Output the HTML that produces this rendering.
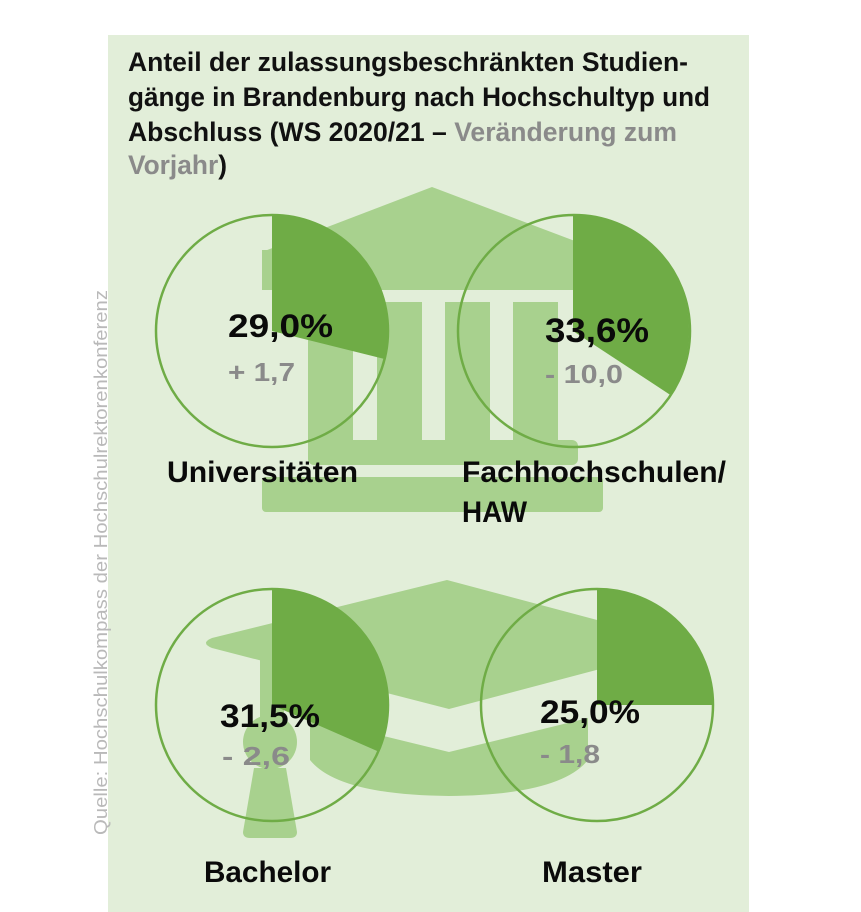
<!DOCTYPE html>
<html><head><meta charset="utf-8"><style>
html,body{margin:0;padding:0;background:#fff;}
svg{display:block;}
</style></head><body>
<svg width="861" height="912" viewBox="0 0 861 912" xmlns="http://www.w3.org/2000/svg">
<rect x="0" y="0" width="861" height="912" fill="#ffffff"/>
<rect x="108" y="35" width="641" height="877" fill="#e2eed9"/>
<text transform="translate(107,835) rotate(-90)" font-family="Liberation Sans, sans-serif" font-size="18" fill="#b9b9b9" textLength="545" lengthAdjust="spacingAndGlyphs">Quelle: Hochschulkompass der Hochschulrektorenkonferenz</text>
<g font-family="Liberation Sans, sans-serif" font-weight="bold" font-size="27" fill="#111">
<text x="128" y="71" textLength="560" lengthAdjust="spacingAndGlyphs">Anteil der zulassungsbeschränkten Studien-</text>
<text x="128" y="106" textLength="582" lengthAdjust="spacingAndGlyphs">gänge in Brandenburg nach Hochschultyp und</text>
<text x="128" y="141" textLength="549" lengthAdjust="spacingAndGlyphs">Abschluss (WS 2020/21 – <tspan fill="#8a8a8a">Veränderung zum</tspan></text>
<text x="128" y="174" textLength="99" lengthAdjust="spacingAndGlyphs"><tspan fill="#8a8a8a">Vorjahr</tspan>)</text>
</g>
<g fill="#a8d18e">
<polygon points="432,187 262,252 604,252"/>
<rect x="262" y="250" width="342" height="40"/>
<rect x="308" y="302" width="45" height="145"/>
<rect x="377" y="302" width="45" height="145"/>
<rect x="445" y="302" width="45" height="145"/>
<rect x="513" y="302" width="45" height="145"/>
<rect x="308" y="440" width="270" height="25" rx="6"/>
<rect x="262" y="477" width="341" height="35" rx="4"/>
</g>
<g fill="#a8d18e">
<path d="M447,580 L691,645 L449,709 L212,648 Q200,643 212,638 Z"/>
<path d="M310,718 L449,752 L588,718 L588,760 Q560,795 449,796 Q338,795 310,760 Z"/>
<rect x="260" y="655" width="24" height="90"/>
<circle cx="270" cy="742" r="27"/>
<path d="M254,768 L286,768 L297,832 Q297,838 290,838 L250,838 Q243,838 243,832 Z"/>
</g>
<g fill="#6fac46">
<path d="M272,331 L272,215 A116,116 0 0 1 384.6,359 Z"/>
<path d="M573,331 L573,215 A116,116 0 0 1 670,394.7 Z"/>
<path d="M272,705 L272,589 A116,116 0 0 1 378.3,751.5 Z"/>
<path d="M597,705 L597,589 A116,116 0 0 1 713,705 Z"/>
</g>
<g fill="none" stroke="#6fac46" stroke-width="2.5">
<circle cx="272" cy="331" r="116"/>
<circle cx="574" cy="331" r="116"/>
<circle cx="272" cy="705" r="116"/>
<circle cx="597" cy="705" r="116"/>
</g>
<g font-family="Liberation Sans, sans-serif" font-weight="bold">
<text x="228" y="337" font-size="32" fill="#0a0a0a" textLength="105" lengthAdjust="spacingAndGlyphs">29,0%</text>
<text x="228" y="381" font-size="26" fill="#8a8a8a" textLength="67" lengthAdjust="spacingAndGlyphs">+ 1,7</text>
<text x="545" y="342" font-size="34" fill="#0a0a0a" textLength="104" lengthAdjust="spacingAndGlyphs">33,6%</text>
<text x="545" y="383" font-size="26" fill="#8a8a8a" textLength="78" lengthAdjust="spacingAndGlyphs">- 10,0</text>
<text x="220" y="727" font-size="32" fill="#0a0a0a" textLength="100" lengthAdjust="spacingAndGlyphs">31,5%</text>
<text x="222" y="765" font-size="26" fill="#8a8a8a" textLength="68" lengthAdjust="spacingAndGlyphs">- 2,6</text>
<text x="540" y="723" font-size="32" fill="#0a0a0a" textLength="100" lengthAdjust="spacingAndGlyphs">25,0%</text>
<text x="540" y="763" font-size="26" fill="#8a8a8a" textLength="60" lengthAdjust="spacingAndGlyphs">- 1,8</text>
</g>
<g font-family="Liberation Sans, sans-serif" font-weight="bold" font-size="30" fill="#0a0a0a">
<text x="167" y="482" textLength="191" lengthAdjust="spacingAndGlyphs">Universitäten</text>
<text x="462" y="482" textLength="264" lengthAdjust="spacingAndGlyphs">Fachhochschulen/</text>
<text x="462" y="522" textLength="65" lengthAdjust="spacingAndGlyphs">HAW</text>
<text x="204" y="882" textLength="127" lengthAdjust="spacingAndGlyphs">Bachelor</text>
<text x="542" y="882" textLength="100" lengthAdjust="spacingAndGlyphs">Master</text>
</g>
</svg>
</body></html>
